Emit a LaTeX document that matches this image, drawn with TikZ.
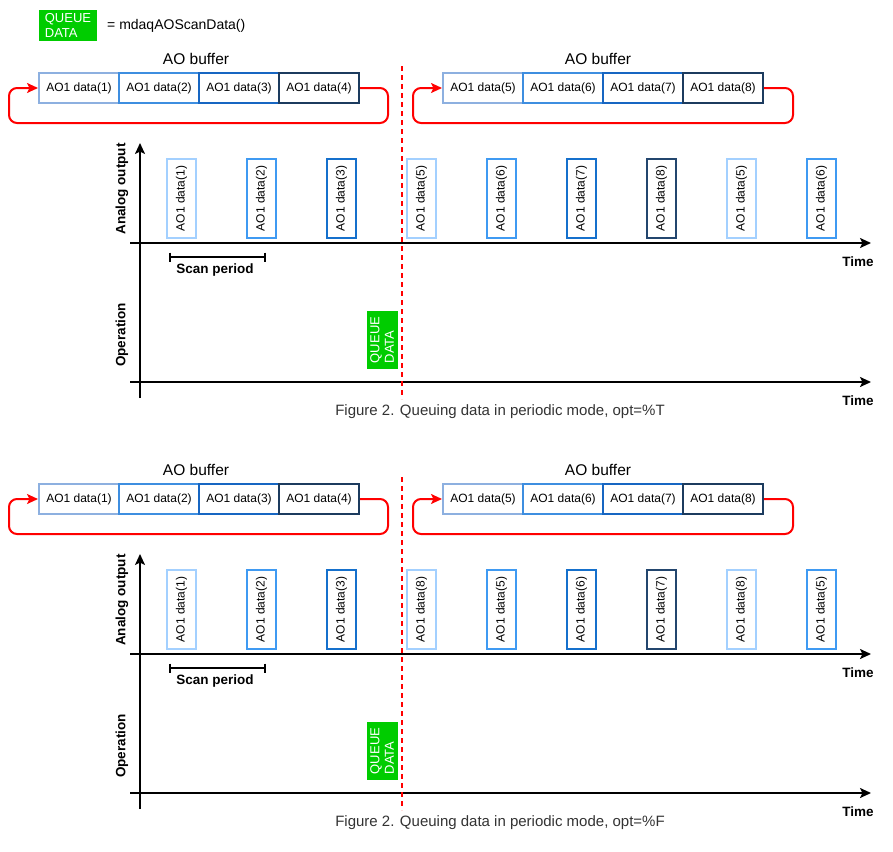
\documentclass[tikz,border=0pt]{standalone}
\usepackage{fontspec}
\setmainfont{Liberation Sans}
\usetikzlibrary{arrows.meta}
\definecolor{qgreen}{HTML}{00CC00}
\definecolor{bone}{HTML}{8DB0E0}
\definecolor{btwo}{HTML}{3E8EE0}
\definecolor{bthree}{HTML}{1766C2}
\definecolor{bfour}{HTML}{1C3B5E}
\definecolor{vl}{HTML}{A3D0FF}
\definecolor{vm}{HTML}{3F9AF2}
\definecolor{vb}{HTML}{1570CC}
\definecolor{vn}{HTML}{23466E}
\definecolor{captext}{HTML}{333333}
\tikzset{
  buf/.style={draw, line width=2pt, fill=white, minimum width=80pt, minimum height=30pt, inner sep=0pt, font=\fontsize{12}{14}\selectfont},
  vbox/.style={draw, line width=2pt, fill=white, rotate=90, minimum width=79pt, minimum height=29pt, inner sep=0pt, font=\fontsize{12}{14}\selectfont},
  qbox/.style={fill=qgreen, text=white, minimum width=58pt, minimum height=31pt, inner sep=0pt, align=left, font=\fontsize{13}{14.5}\selectfont},
  axisarrow/.style={line width=2pt, -{Stealth[length=11pt,width=10pt,inset=2.5pt]}},
  redloop/.style={red, line width=2pt, rounded corners=8pt, -{Stealth[length=11pt,width=10pt,inset=2.5pt]}},
  tline/.style={red, line width=2pt, dash pattern=on 5pt off 4pt},
  blab/.style={font=\bfseries\fontsize{13.5}{15}\selectfont},
  buftitle/.style={font=\fontsize{15.5}{17}\selectfont},
  captxt/.style={text=captext, font=\fontsize{15}{17}\selectfont},
}
\newcommand\mysection[4]{%
\begin{scope}[yshift=#2]
  % buffers
  \node[buftitle] (#1tl) at (196,59) {AO buffer};
  \node[buftitle] (#1tr) at (598,59) {AO buffer};
  \node[buf, draw=bone]   (#1b1) at (79,88)  {AO1 data(1)};
  \node[buf, draw=btwo]   (#1b2) at (159,88) {AO1 data(2)};
  \node[buf, draw=bthree] (#1b3) at (239,88) {AO1 data(3)};
  \node[buf, draw=bfour]  (#1b4) at (319,88) {AO1 data(4)};
  \node[buf, draw=bone]   (#1b5) at (483,88) {AO1 data(5)};
  \node[buf, draw=btwo]   (#1b6) at (563,88) {AO1 data(6)};
  \node[buf, draw=bthree] (#1b7) at (643,88) {AO1 data(7)};
  \node[buf, draw=bfour]  (#1b8) at (723,88) {AO1 data(8)};
  \draw[redloop] (#1b4.east) -- (388,88) -- (388,123) -- (9,123) -- (9,88) -- (#1b1.west);
  \draw[redloop] (#1b8.east) -- (793,88) -- (793,123) -- (413,123) -- (413,88) -- (#1b5.west);
  % axes
  \coordinate (#1vb) at (140,398);
  \coordinate (#1vt) at (140,143);
  \coordinate (#1h1a) at (130,243);
  \coordinate (#1h1b) at (871,243);
  \coordinate (#1h2a) at (130,382);
  \coordinate (#1h2b) at (871,382);
  \draw[axisarrow] (#1vb) -- (#1vt);
  \draw[axisarrow] (#1h1a) -- (#1h1b);
  \draw[axisarrow] (#1h2a) -- (#1h2b);
  \node[blab, rotate=90] (#1ao) at (122,189) {Analog output};
  \node[blab, rotate=90] (#1op) at (122,335) {Operation};
  \node[blab] (#1time1) at (858,262) {Time};
  \node[blab] (#1time2) at (858,401) {Time};
  % scan period
  \coordinate (#1sa) at (170,257);
  \coordinate (#1sb) at (265,257);
  \draw[line width=2pt] (#1sa) -- (#1sb);
  \draw[line width=2pt] ([yshift=4.5pt]#1sa) -- ([yshift=-4.5pt]#1sa);
  \draw[line width=2pt] ([yshift=4.5pt]#1sb) -- ([yshift=-4.5pt]#1sb);
  \node[blab] (#1scan) at (215,270) {Scan period};
  % data boxes
  \foreach \lab/\col [count=\i] in {#3} {
    \node[vbox, draw=\col] (#1v\i) at ({101.5+80*\i},198.5) {AO1 data(\lab)};
  }
  % time line
  \coordinate (#1da) at (402,66);
  \coordinate (#1db) at (402,399);
  \draw[tline] (#1da) -- (#1db);
  \node[qbox, rotate=90] (#1q) at (382,340) {QUEUE\\DATA};
  \node[captxt] (#1cap) at (500,412) {#4};
\end{scope}}
\begin{document}
\begin{tikzpicture}[x=1pt,y=-1pt]
\useasboundingbox (0,0) rectangle (893,851);
\node[qbox] (legq) at (68,25.5) {QUEUE\\DATA};
\node[anchor=west, font=\fontsize{14}{16}\selectfont, inner sep=0pt] (legt) at (107,26) {= mdaqAOScanData()};
\mysection{a}{0pt}{1/vl,2/vm,3/vb,5/vl,6/vm,7/vb,8/vn,5/vl,6/vm}{Figure 2. Queuing data in periodic mode, opt=\%T}
\mysection{b}{-411pt}{1/vl,2/vm,3/vb,8/vl,5/vm,6/vb,7/vn,8/vl,5/vm}{Figure 2. Queuing data in periodic mode, opt=\%F}
\end{tikzpicture}
\end{document}
